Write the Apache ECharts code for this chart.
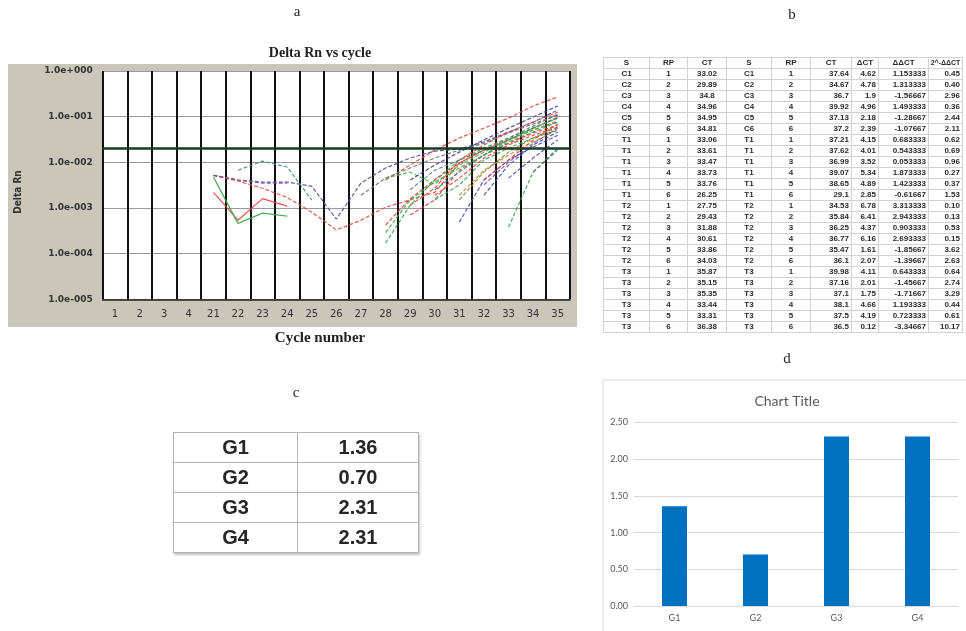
<!DOCTYPE html>
<html>
<head>
<meta charset="utf-8">
<script src="https://cdn.jsdelivr.net/npm/echarts@6/dist/echarts.min.js"></script>
<style>
  html, body { margin: 0; padding: 0; background: #fff; }
  #stage { position: relative; width: 966px; height: 631px; overflow: hidden; }
  #chart { position: absolute; left: 0; top: 0; width: 966px; height: 631px; }
  #ctTable { position: absolute; left: 603px; top: 57px; border-collapse: collapse; table-layout: fixed;
             font: bold 8px "Liberation Sans", Arial, sans-serif; color: #2b2b2b; }
  #ctTable td { border: 1px solid #d2d2d2; padding: 0 2px; height: 10px; line-height: 10px;
                white-space: nowrap; overflow: visible; text-align: center; }
  #ctTable td.r { text-align: right; }
  #ctTable td.h { font-size: 7px; padding: 0; }
  #foldTable { position: absolute; left: 173px; top: 432px; border-collapse: collapse; table-layout: fixed;
               font: bold 20px "Liberation Sans", Arial, sans-serif; color: #262626;
               box-shadow: 1px 2px 2px rgba(0,0,0,0.25); }
  #foldTable td { border: 1px solid #b4b4b4; height: 29px; padding: 0; text-align: center; line-height: 29px; }
</style>
</head>
<body>
<div id="stage">
  <div id="chart"></div>
  <table id="ctTable"></table>
  <table id="foldTable"></table>
</div>
<script>
// ---- amplification plot (panel a) ----
const cycleLabels = ['1','2','3','4','21','22','23','24','25','26','27','28','29','30','31','32','33','34','35'];
const rnTickLabels = ['1.0e+000','1.0e-001','1.0e-002','1.0e-003','1.0e-004','1.0e-005'];
const rnThreshold = 0.0185;

const rnE1 = [0.0052, 0.0041, 0.0037, 0.0037, 0.0030, 0.00057, 0.0035, 0.0075, 0.0124, 0.0176, 0.0195, 0.028, 0.046, 0.076, 0.140];
const rnE2 = [0.0052, 0.0039, 0.0027, 0.0017, 0.00081, 0.00033, 0.00054, 0.00104, 0.0015, 0.0022, 0.0096, 0.0185, 0.031, 0.056, 0.098];
const rnE3 = [0.0022, 0.00054, 0.0016, 0.0011];
const rnE4 = [0.0048, 0.00046, 0.00077, 0.00066];
const rnE5 = [0.0067, 0.0106, 0.0079, 0.0015];
const rnE6 = [0.0052, 0.0041, 0.0035, 0.0035];
const rnL1 = [0.0041, 0.0087, 0.0185, 0.034, 0.056, 0.093, 0.171, 0.27];
const rnL2 = [0.0019, 0.0045, 0.0075, 0.0124, 0.0185, 0.026, 0.044, 0.069, 0.108];
const rnL3 = [0.00017, 0.00115, 0.0041, 0.0112, 0.0205, 0.034, 0.056, 0.093];
const rnL4 = [0.00042, 0.0016, 0.0041, 0.0096, 0.0185, 0.031, 0.051, 0.080];
const rnL5 = [0.0045, 0.0061, 0.0033, 0.0087, 0.0167, 0.031, 0.051, 0.076];
const rnL6 = [0.00115, 0.0027, 0.0112, 0.024, 0.046, 0.076, 0.126];
const rnL7 = [0.00070, 0.0015, 0.0067, 0.0144, 0.026, 0.044, 0.065];
const rnL8 = [0.00049, 0.0041, 0.0112, 0.0216, 0.039];
const rnL9 = [0.0019, 0.0067, 0.0144, 0.028, 0.051];
const rnL10 = [0.00038, 0.0061, 0.0205];
const rnL11 = [0.0045, 0.0124, 0.031];
const rnL12 = [0.0061, 0.0185];
const rnL13 = [0.0025, 0.0061, 0.0144, 0.031, 0.056, 0.093];
const rnL14 = [0.0015, 0.0061, 0.0167, 0.034, 0.059];
const rnL15 = [0.0019, 0.0045, 0.0124, 0.024, 0.039, 0.059];
const rnL16 = [0.0015, 0.0032, 0.0112, 0.0205, 0.034, 0.051];
const rnL17 = [0.0019, 0.0087, 0.024, 0.046];
const rnL18 = [0.0032, 0.0101, 0.026, 0.056];
const rnL19 = [0.0041, 0.0112, 0.031, 0.069];
const rnL20 = [0.00029, 0.0015, 0.0037, 0.0075, 0.0144, 0.028, 0.046, 0.076];
const rnL21 = [0.0025, 0.0067, 0.0112, 0.0185, 0.034, 0.062, 0.114];
const rnL22 = [0.0041, 0.0087, 0.0167, 0.031, 0.056, 0.098, 0.171];

// first cycle of each trace
const rnCurves = [
  ['21', rnE1], ['21', rnE2], ['21', rnE3], ['21', rnE4], ['22', rnE5], ['21', rnE6],
  ['28', rnL1], ['27', rnL2], ['28', rnL3], ['28', rnL4], ['28', rnL5], ['29', rnL6],
  ['29', rnL7], ['31', rnL8], ['31', rnL9], ['33', rnL10], ['33', rnL11], ['34', rnL12],
  ['30', rnL13], ['31', rnL14], ['30', rnL15], ['30', rnL16], ['32', rnL17], ['32', rnL18],
  ['32', rnL19], ['28', rnL20], ['29', rnL21], ['29', rnL22]
];
const rnColors = ['#4b4f9e','#e0463c','#e8403a','#3aa54a','#3f8a7c','#8a4a8a',
                  '#e0463c','#707070','#3aa54a','#e0463c','#4caf50','#e0463c',
                  '#d9433b','#3f51b5','#c98a2e','#3aa54a','#3f51b5','#5a6a8a',
                  '#3f8a7c','#8a8a3a','#e0463c','#3aa54a','#3f51b5','#7b4f9e',
                  '#e0463c','#3aa54a','#5f7f7f','#3b3f9a'];
const rnSolid = [false, false, true, true, false, false];

// ---- ΔΔCT table (panel b) ----
const ctHeader = ['S','RP','CT','S','RP','CT','ΔCT','ΔΔCT','2^-ΔΔCT'];
const sampleIds = ['C1','C2','C3','C4','C5','C6','T1','T1','T1','T1','T1','T1',
                   'T2','T2','T2','T2','T2','T2','T3','T3','T3','T3','T3','T3'];
const replicates = [1,2,3,4,5,6,1,2,3,4,5,6,1,2,3,4,5,6,1,2,3,4,5,6];
const ctFirst = ['33.02','29.89','34.8','34.96','34.95','34.81','33.06','33.61','33.47','33.73','33.76','26.25',
                 '27.75','29.43','31.88','30.61','33.86','34.03','35.87','35.15','35.35','33.44','33.31','36.38'];
const ctSecond = ['37.64','34.67','36.7','39.92','37.13','37.2','37.21','37.62','36.99','39.07','38.65','29.1',
                  '34.53','35.84','36.25','36.77','35.47','36.1','39.98','37.16','37.1','38.1','37.5','36.5'];
const deltaCt = ['4.62','4.78','1.9','4.96','2.18','2.39','4.15','4.01','3.52','5.34','4.89','2.85',
                 '6.78','6.41','4.37','6.16','1.61','2.07','4.11','2.01','1.75','4.66','4.19','0.12'];
const deltaDeltaCt = ['1.153333','1.313333','-1.56667','1.493333','-1.28667','-1.07667','0.683333','0.543333',
                      '0.053333','1.873333','1.423333','-0.61667','3.313333','2.943333','0.903333','2.693333',
                      '-1.85667','-1.39667','0.643333','-1.45667','-1.71667','1.193333','0.723333','-3.34667'];
const foldChange = ['0.45','0.40','2.96','0.36','2.44','2.11','0.62','0.69','0.96','0.27','0.37','1.53',
                    '0.10','0.13','0.53','0.15','3.62','2.63','0.64','2.74','3.29','0.44','0.61','10.17'];
const ctColWidths = [46, 38, 39, 45, 39, 41, 27, 50, 34];

// ---- group means (panels c and d) ----
const groupNames = ['G1','G2','G3','G4'];
const groupFold = [1.36, 0.70, 2.31, 2.31];

// build table b
(function () {
  const t = document.getElementById('ctTable');
  let html = '<colgroup>' + ctColWidths.map(w => '<col style="width:' + w + 'px">').join('') + '</colgroup>';
  html += '<tr>' + ctHeader.map((h, i) => '<td' + (i === ctHeader.length - 1 ? ' class="h"' : '') + '>' + h + '</td>').join('') + '</tr>';
  for (let i = 0; i < sampleIds.length; i++) {
    html += '<tr><td>' + sampleIds[i] + '</td><td>' + replicates[i] + '</td><td>' + ctFirst[i] +
            '</td><td>' + sampleIds[i] + '</td><td>' + replicates[i] + '</td><td class="r">' + ctSecond[i] +
            '</td><td class="r">' + deltaCt[i] + '</td><td class="r">' + deltaDeltaCt[i] +
            '</td><td class="r">' + foldChange[i] + '</td></tr>';
  }
  t.innerHTML = html;
  t.style.width = ctColWidths.reduce((a, b) => a + b, 0) + 'px';
})();

// build table c
(function () {
  const t = document.getElementById('foldTable');
  let html = '<colgroup><col style="width:124px"><col style="width:121px"></colgroup>';
  for (let i = 0; i < groupNames.length; i++) {
    html += '<tr><td>' + groupNames[i] + '</td><td>' + groupFold[i].toFixed(2) + '</td></tr>';
  }
  t.innerHTML = html;
})();

function fromCycle(label, values) {
  const start = cycleLabels.indexOf(label);
  return cycleLabels.map((_, i) => (i >= start && i - start < values.length) ? values[i - start] : null);
}

const chart = echarts.init(document.getElementById('chart'), null, { renderer: 'canvas' });

const lineSeries = rnCurves.map((c, k) => ({
  type: 'line',
  xAxisIndex: 0,
  yAxisIndex: 0,
  data: fromCycle(c[0], c[1]),
  symbol: 'none',
  silent: true,
  connectNulls: false,
  lineStyle: { color: rnColors[k], width: 1.2, type: rnSolid[k] ? 'solid' : [4, 2], opacity: 0.9 },
  z: 3
}));
lineSeries[0].markLine = {
  silent: true,
  symbol: 'none',
  label: { show: false },
  lineStyle: { color: '#173d20', width: 2.5, type: 'solid' },
  data: [{ yAxis: rnThreshold }],
  z: 5
};

const serif = '"Liberation Serif", "DejaVu Serif", serif';

chart.setOption({
  animation: false,
  graphic: [
    { type: 'rect', z: -10, shape: { x: 8, y: 64, width: 569, height: 263 }, style: { fill: '#cac6ba' } },
    { type: 'rect', z: -10, shape: { x: 603, y: 380, width: 400, height: 300 }, style: { fill: 'none', stroke: '#d9d9d9', lineWidth: 1 } },
    { type: 'text', x: 297, y: 12, style: { text: 'a', font: '15px ' + serif, fill: '#222', align: 'center', verticalAlign: 'middle' } },
    { type: 'text', x: 792, y: 15, style: { text: 'b', font: '15px ' + serif, fill: '#222', align: 'center', verticalAlign: 'middle' } },
    { type: 'text', x: 296, y: 393, style: { text: 'c', font: '15px ' + serif, fill: '#222', align: 'center', verticalAlign: 'middle' } },
    { type: 'text', x: 787, y: 359, style: { text: 'd', font: '15px ' + serif, fill: '#222', align: 'center', verticalAlign: 'middle' } },
    { type: 'text', x: 320, y: 53, style: { text: 'Delta Rn vs cycle', font: 'bold 14px ' + serif, fill: '#222', align: 'center', verticalAlign: 'middle' } },
    { type: 'text', x: 320, y: 338, style: { text: 'Cycle number', font: 'bold 15px ' + serif, fill: '#222', align: 'center', verticalAlign: 'middle' } },
    { type: 'text', x: 18, y: 192, rotation: Math.PI / 2, style: { text: 'Delta Rn', font: 'bold 10px "DejaVu Sans Condensed", sans-serif', fill: '#333', align: 'center', verticalAlign: 'middle' } },
    { type: 'text', x: 787, y: 401, style: { text: 'Chart Title', font: '14px Lato, "Open Sans", sans-serif', fill: '#595959', align: 'center', verticalAlign: 'middle' } }
  ],
  grid: [
    { left: 102.7, top: 71, width: 467.3, height: 228.3, show: true, backgroundColor: '#fff', borderWidth: 0 },
    { left: 634, top: 422.5, width: 324, height: 183.5, show: false }
  ],
  xAxis: [
    {
      type: 'category', gridIndex: 0, data: cycleLabels, boundaryGap: true,
      axisTick: { show: false },
      axisLine: { show: true, lineStyle: { color: '#222', width: 1.5 } },
      axisLabel: { fontSize: 10, color: '#333', margin: 10, fontFamily: '"DejaVu Sans", sans-serif', interval: 0 },
      splitLine: { show: true, interval: 0, lineStyle: { color: '#111', width: 2 } }
    },
    {
      type: 'category', gridIndex: 1, data: groupNames,
      axisTick: { show: false },
      axisLine: { show: true, lineStyle: { color: '#d9d9d9', width: 1 } },
      axisLabel: { fontSize: 9, color: '#595959', margin: 8, fontFamily: 'Lato, sans-serif' }
    }
  ],
  yAxis: [
    {
      type: 'log', gridIndex: 0, logBase: 10, min: 1e-5, max: 1, splitNumber: 5,
      axisLine: { show: false }, axisTick: { show: false },
      axisLabel: {
        fontSize: 9, color: '#333', margin: 10, fontWeight: 'bold', fontFamily: '"DejaVu Sans", sans-serif',
        formatter: v => rnTickLabels[Math.round(-Math.log10(v))]
      },
      splitLine: { show: true, lineStyle: { color: '#9a9a9a', width: 1 } }
    },
    {
      type: 'value', gridIndex: 1, min: 0, max: 2.5, interval: 0.5,
      axisLine: { show: false }, axisTick: { show: false },
      axisLabel: { fontSize: 9, color: '#595959', margin: 6, fontFamily: 'Lato, sans-serif', formatter: v => v.toFixed(2) },
      splitLine: { show: true, lineStyle: { color: '#d9d9d9', width: 1 } }
    }
  ],
  series: lineSeries.concat([
    {
      type: 'bar', xAxisIndex: 1, yAxisIndex: 1, data: groupFold, barWidth: 25,
      itemStyle: { color: '#0070c0' }, silent: true
    }
  ])
});
</script>
</body>
</html>
